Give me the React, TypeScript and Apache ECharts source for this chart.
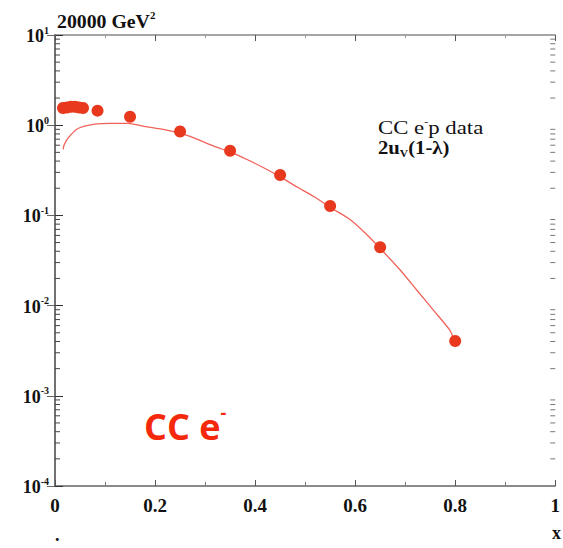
import React, { useEffect, useRef } from "react";
import * as echarts from "echarts";

// ---- data ----
const dataX = [0.016, 0.024, 0.032, 0.04, 0.048, 0.056, 0.085, 0.15, 0.25, 0.35, 0.45, 0.55, 0.65, 0.8];
const dataY = [1.55, 1.57, 1.6, 1.6, 1.57, 1.55, 1.45, 1.24, 0.85, 0.52, 0.28, 0.127, 0.0443, 0.00405];

const curveX = [0.0165, 0.018, 0.026, 0.046, 0.079, 0.112, 0.145, 0.178, 0.221, 0.267, 0.32, 0.352, 0.386, 0.419, 0.452, 0.485, 0.518, 0.553, 0.591, 0.624, 0.653, 0.69, 0.723, 0.756, 0.789, 0.795];
const curveY = [0.54, 0.6, 0.72, 0.92, 1.03, 1.05, 1.05, 0.97, 0.885, 0.76, 0.578, 0.5, 0.411, 0.333, 0.264, 0.205, 0.161, 0.12, 0.0889, 0.0607, 0.0414, 0.0248, 0.0149, 0.00897, 0.00537, 0.00454];

// log-axis minor tick positions (mantissa x decade)
const MINOR_MANTISSAS = [2, 3, 4, 5, 6, 7, 8, 9];
const DECADES = [-4, -3, -2, -1, 0];

const SERIF = "Liberation Serif";
const SANS = "Open Sans";
const RED_DOT = "#e8391e";
const RED_LINE = "#f0625a";
const RED_TEXT = "#f5280c";

export default function App() {
  const ref = useRef<HTMLDivElement>(null);

  useEffect(() => {
    if (!ref.current) return;
    const chart = echarts.init(ref.current, undefined, { renderer: "svg" });

    const minorTicks: number[][] = [];
    DECADES.forEach((d) => MINOR_MANTISSAS.forEach((m) => minorTicks.push([0, m * Math.pow(10, d)])));

    const tickColor = "#555";
    const yLabelRich = {
      b: { fontFamily: SERIF, fontWeight: "bold", fontSize: 18, color: "#111", lineHeight: 20, verticalAlign: "bottom" },
      s: { fontFamily: SERIF, fontWeight: "bold", fontSize: 10, color: "#111", lineHeight: 10, verticalAlign: "top" },
    };

    const option: any = {
      animation: false,
      backgroundColor: "#fff",
      grid: { left: 55, right: 3, top: 35, bottom: 62 },
      xAxis: [
        {
          type: "value",
          min: 0,
          max: 1,
          interval: 0.2,
          position: "bottom",
          axisLine: { lineStyle: { color: "#666", width: 1.5 } },
          axisTick: { inside: true, length: 6, lineStyle: { color: tickColor } },
          minorTick: { show: true, splitNumber: 2, length: 4, lineStyle: { color: "#777" } },
          splitLine: { show: false },
          axisLabel: {
            margin: 10,
            fontFamily: SERIF,
            fontWeight: "bold",
            fontSize: 19,
            color: "#111",
            formatter: (v: number) => (v === 0 ? "0" : v === 1 ? "1" : v.toFixed(1)),
          },
        },
        {
          type: "value",
          min: 0,
          max: 1,
          interval: 0.2,
          position: "top",
          axisLine: { lineStyle: { color: "#888", width: 1.5 } },
          axisTick: { inside: true, length: 6, lineStyle: { color: tickColor } },
          minorTick: { show: true, splitNumber: 2, length: 3, lineStyle: { color: "#999" } },
          splitLine: { show: false },
          axisLabel: { show: false },
        },
      ],
      yAxis: [
        {
          type: "log",
          logBase: 10,
          min: 1e-4,
          max: 10,
          position: "left",
          axisLine: { show: true, lineStyle: { color: "#333", width: 1.5 } },
          axisTick: { show: true, inside: true, length: 8, lineStyle: { color: "#333" } },
          splitLine: { show: false },
          axisLabel: {
            margin: 6,
            formatter: (v: number) => `{b|10}{s|${Math.round(Math.log10(v))}}`,
            rich: yLabelRich,
          },
        },
        {
          type: "log",
          logBase: 10,
          min: 1e-4,
          max: 10,
          position: "right",
          axisLine: { show: true, lineStyle: { color: "#777", width: 1.5 } },
          axisTick: { show: true, inside: true, length: 8, lineStyle: { color: "#666" } },
          splitLine: { show: false },
          axisLabel: { show: false },
        },
      ],
      series: [
        {
          type: "custom",
          silent: true,
          xAxisIndex: 0,
          yAxisIndex: 0,
          clip: false,
          data: minorTicks,
          renderItem: (_p: any, api: any) => {
            const v = api.value(1);
            const l = api.coord([0, v]);
            const r = api.coord([1, v]);
            return {
              type: "group",
              children: [
                { type: "line", shape: { x1: l[0], y1: l[1], x2: l[0] + 5, y2: l[1] }, style: { stroke: "#444", lineWidth: 1 } },
                { type: "line", shape: { x1: r[0], y1: r[1], x2: r[0] - 5, y2: r[1] }, style: { stroke: "#777", lineWidth: 1 } },
              ],
            };
          },
        },
        {
          type: "line",
          xAxisIndex: 0,
          yAxisIndex: 0,
          smooth: 0.3,
          symbol: "none",
          lineStyle: { color: RED_LINE, width: 1.3 },
          data: curveX.map((x, i) => [x, curveY[i]]),
          z: 3,
        },
        {
          type: "scatter",
          xAxisIndex: 0,
          yAxisIndex: 0,
          symbol: "circle",
          symbolSize: 12,
          itemStyle: { color: RED_DOT, opacity: 1 },
          data: dataX.map((x, i) => [x, dataY[i]]),
          z: 4,
        },
      ],
      graphic: [
        {
          type: "text",
          x: 57,
          y: 11,
          scaleX: 1.1,
          style: {
            text: "{n|20000 GeV}{s|2}",
            rich: {
              n: { fontFamily: SERIF, fontWeight: "bold", fontSize: 18, fill: "#111", lineHeight: 20, verticalAlign: "bottom" },
              s: { fontFamily: SERIF, fontWeight: "bold", fontSize: 10, fill: "#111", lineHeight: 10, verticalAlign: "top" },
            },
          },
        },
        {
          type: "text",
          x: 378,
          y: 116,
          scaleX: 1.2,
          style: {
            text: "{n|CC e}{s|-}{n|p data}",
            rich: {
              n: { fontFamily: SERIF, fontSize: 19, fill: "#111", lineHeight: 21, verticalAlign: "bottom" },
              s: { fontFamily: SERIF, fontSize: 10, fill: "#111", lineHeight: 10, verticalAlign: "top" },
            },
          },
        },
        {
          type: "text",
          x: 378,
          y: 139,
          scaleX: 1.15,
          style: {
            text: "{n|2u}{v|V}{n|(1-λ)}",
            rich: {
              n: { fontFamily: SERIF, fontWeight: "bold", fontSize: 18, fill: "#111", lineHeight: 19, verticalAlign: "top" },
              v: { fontFamily: SERIF, fontWeight: "bold", fontSize: 10, fill: "#111", lineHeight: 19, verticalAlign: "bottom" },
            },
          },
        },
        {
          type: "text",
          x: 144,
          y: 403,
          style: {
            text: "{n|CC e}{s|-}",
            rich: {
              n: { fontFamily: SANS, fontWeight: "bold", fontSize: 36, fill: RED_TEXT, lineHeight: 41, verticalAlign: "bottom" },
              s: { fontFamily: SANS, fontWeight: "bold", fontSize: 18, fill: RED_TEXT, lineHeight: 18, verticalAlign: "top" },
            },
          },
        },
        {
          type: "text",
          x: 552,
          y: 524,
          style: { text: "x", fontFamily: SERIF, fontWeight: "bold", fontSize: 18, fill: "#111" },
        },
        {
          type: "text",
          x: 55,
          y: 526,
          style: { text: ".", fontFamily: SERIF, fontWeight: "bold", fontSize: 18, fill: "#111" },
        },
      ],
    };

    chart.setOption(option);
    return () => chart.dispose();
  }, []);

  return <div ref={ref} style={{ position: "fixed", left: 0, top: 0, width: 563, height: 548 }} />;
}
